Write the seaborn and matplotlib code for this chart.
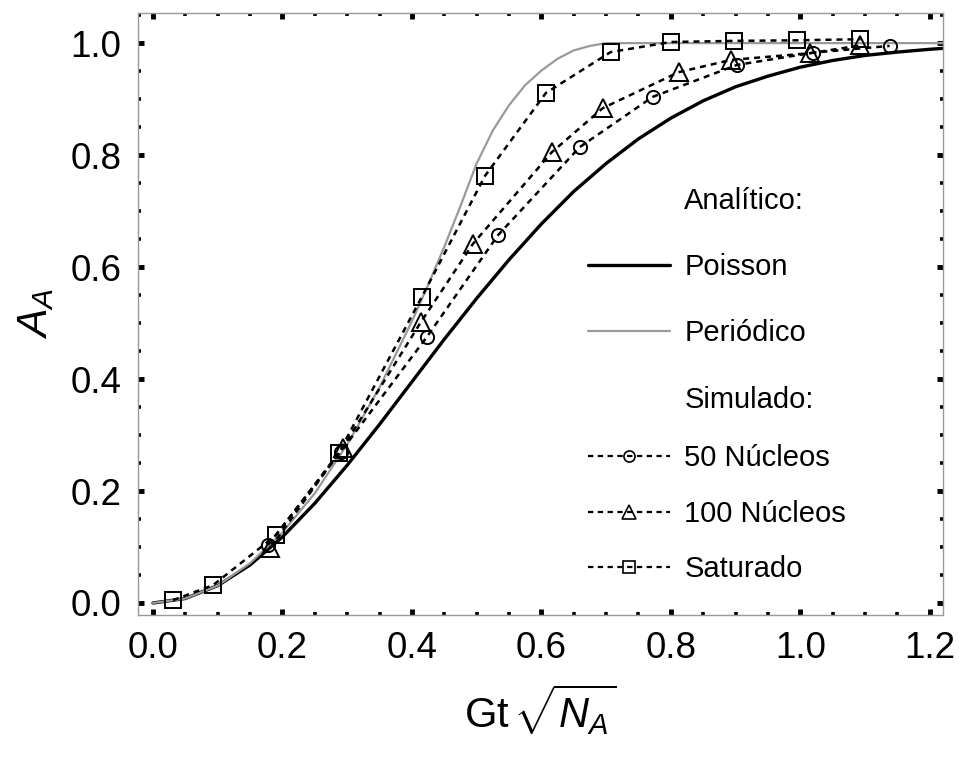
import numpy as np
import pandas as pd
import matplotlib
matplotlib.use('Agg')
import matplotlib.pyplot as plt
from matplotlib.lines import Line2D
from matplotlib.ticker import MultipleLocator, FormatStrFormatter
import seaborn as sns

# curvas analiticas
x_poisson = [0.0, 0.05, 0.1, 0.15, 0.2, 0.25, 0.3, 0.35, 0.4, 0.45, 0.5, 0.55, 0.6,
             0.65, 0.7, 0.75, 0.8, 0.85, 0.9, 0.95, 1.0, 1.05, 1.1, 1.15, 1.2, 1.25]
y_poisson = [0.0, 0.008, 0.031, 0.068, 0.118, 0.178, 0.246, 0.319, 0.395, 0.471, 0.544,
             0.613, 0.677, 0.735, 0.785, 0.829, 0.866, 0.897, 0.922, 0.941, 0.957,
             0.969, 0.978, 0.984, 0.989, 0.993]

x_periodico = [0.0, 0.05, 0.1, 0.15, 0.2, 0.25, 0.3, 0.35, 0.4, 0.425, 0.45, 0.475, 0.5,
               0.525, 0.55, 0.575, 0.6, 0.625, 0.65, 0.675, 0.7, 0.75, 0.8, 1.0, 1.25]
y_periodico = [0.0, 0.008, 0.031, 0.071, 0.126, 0.196, 0.283, 0.385, 0.503, 0.568, 0.636,
               0.709, 0.785, 0.844, 0.889, 0.925, 0.951, 0.972, 0.987, 0.995, 1.0, 1.0,
               1.0, 1.0, 1.0]

# simulacoes
x_50 = [0.178, 0.290, 0.423, 0.533, 0.659, 0.772, 0.902, 1.020, 1.138]
y_50 = [0.104, 0.270, 0.475, 0.657, 0.814, 0.904, 0.961, 0.983, 0.995]

x_100 = [0.181, 0.293, 0.414, 0.494, 0.616, 0.695, 0.812, 0.893, 1.015, 1.093]
y_100 = [0.098, 0.277, 0.502, 0.641, 0.805, 0.884, 0.948, 0.970, 0.982, 0.996]

x_sat = [0.031, 0.093, 0.190, 0.287, 0.415, 0.513, 0.607, 0.707, 0.800, 0.897, 0.995, 1.093]
y_sat = [0.005, 0.032, 0.121, 0.268, 0.546, 0.763, 0.911, 0.984, 1.002, 1.004, 1.005, 1.007]

sns.set_style('ticks')
plt.rcParams['font.family'] = ['Liberation Sans', 'DejaVu Sans']
plt.rcParams['mathtext.fontset'] = 'custom'
plt.rcParams['mathtext.rm'] = 'Liberation Sans'
plt.rcParams['mathtext.it'] = 'Liberation Sans:italic'
plt.rcParams['text.color'] = 'black'
plt.rcParams['axes.labelcolor'] = 'black'
plt.rcParams['xtick.color'] = 'black'
plt.rcParams['ytick.color'] = 'black'

fig = plt.figure(figsize=(9.59, 7.58), dpi=100)
ax = fig.add_axes([0.144, 0.189, 0.839, 0.794])

dash_kw = dict(color='black', lw=1.8, linestyle=(0, (2.4, 2.0)), mfc='none',
               mec='black', mew=1.4, estimator=None, sort=False)

sns.lineplot(x=x_poisson, y=y_poisson, ax=ax, color='black', lw=2.4,
             estimator=None, sort=False)
sns.lineplot(x=x_periodico, y=y_periodico, ax=ax, color='#9a9a9a', lw=1.6,
             estimator=None, sort=False)
sns.lineplot(x=x_50, y=y_50, ax=ax, marker='o', ms=9.5, **dash_kw)
sns.lineplot(x=x_100, y=y_100, ax=ax, marker='^', ms=12.5, **dash_kw)
sns.lineplot(x=x_sat, y=y_sat, ax=ax, marker='s', ms=11, **dash_kw)

ax.set_xlim(-0.023, 1.22)
ax.set_ylim(-0.021, 1.054)
ax.xaxis.set_major_locator(MultipleLocator(0.2))
ax.xaxis.set_minor_locator(MultipleLocator(0.05))
ax.yaxis.set_major_locator(MultipleLocator(0.2))
ax.yaxis.set_minor_locator(MultipleLocator(0.05))
ax.xaxis.set_major_formatter(FormatStrFormatter('%.1f'))
ax.yaxis.set_major_formatter(FormatStrFormatter('%.1f'))

ax.tick_params(which='both', direction='in', top=True, right=True, color='black')
ax.tick_params(which='major', length=4, width=3.5, labelsize=26.5, pad=12)
ax.tick_params(which='minor', length=2.2, width=2.6)
for s in ax.spines.values():
    s.set_color('#999999')
    s.set_linewidth(1.0)

ax.set_xlabel(r'Gt$\,\sqrt{N_A}$', fontsize=30, labelpad=12)
ax.set_ylabel(r'$A_A$', fontsize=31, labelpad=10)

# legenda em dois blocos (espacamentos diferentes como no original)
blank = Line2D([], [], linestyle='none')
leg_dash = dict(color='black', lw=1.6, linestyle=(0, (2.4, 2.0)), mfc='none',
                mec='black', mew=1.2)
leg_kw = dict(loc='upper left', bbox_transform=fig.transFigure, frameon=False,
              fontsize=21, handlelength=2.8, handletextpad=0.5,
              borderpad=0, borderaxespad=0)

h1 = [blank, Line2D([], [], color='black', lw=2.4),
      Line2D([], [], color='#9a9a9a', lw=1.6), blank]
l1 = ['Analítico:', 'Poisson', 'Periódico', 'Simulado:']
leg1 = ax.legend(h1, l1, bbox_to_anchor=(588 / 959, 1 - 187 / 758),
                 labelspacing=1.31, **leg_kw)
ax.add_artist(leg1)

h2 = [Line2D([], [], marker='o', ms=8, **leg_dash),
      Line2D([], [], marker='^', ms=10, **leg_dash),
      Line2D([], [], marker='s', ms=9, **leg_dash)]
l2 = ['50 Núcleos', '100 Núcleos', 'Saturado']
ax.legend(h2, l2, bbox_to_anchor=(588 / 959, 1 - 444 / 758),
          labelspacing=0.95, **leg_kw)

fig.savefig('out.png', dpi=100)
